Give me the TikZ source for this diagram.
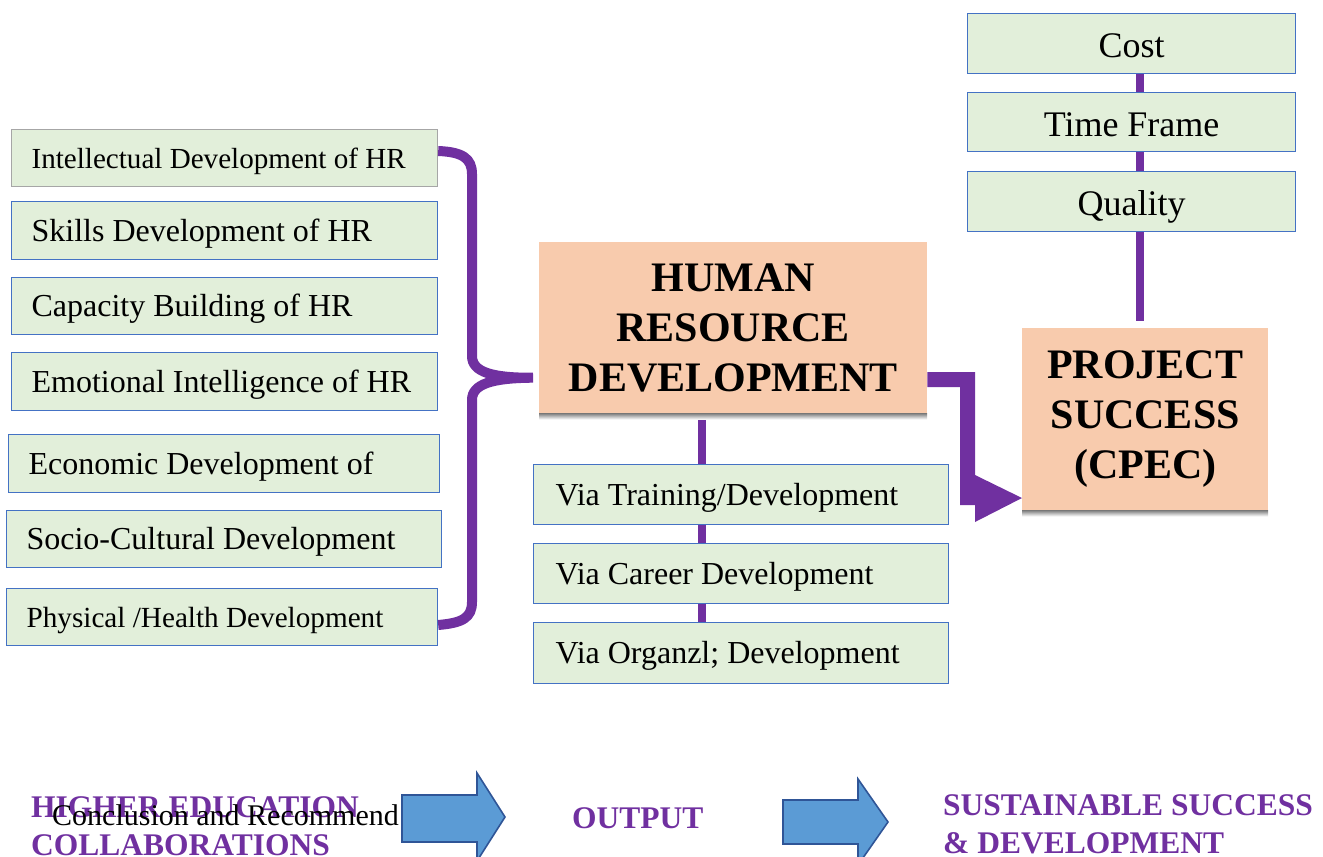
\documentclass[tikz,border=0pt]{standalone}
\usepackage{fontspec}
\setmainfont{Liberation Serif}
\usetikzlibrary{calc,backgrounds}

\definecolor{boxgreen}{HTML}{E2EFDA}
\definecolor{boxblue}{HTML}{4472C4}
\definecolor{boxgrey}{HTML}{A6A6A6}
\definecolor{peach}{HTML}{F8CBAD}
\definecolor{shade}{HTML}{A6A6A6}
\definecolor{hrpurple}{HTML}{7030A0}
\definecolor{arrowblue}{HTML}{5B9BD5}
\definecolor{arrowedge}{HTML}{2F5597}

\tikzset{
  factor/.style={draw=boxblue, fill=boxgreen, line width=1.2pt, anchor=north west,
    inner xsep=20pt, inner ysep=0pt, align=flush left,
    font=\fontsize{32}{38}\selectfont, text height=25pt, text depth=4pt},
  measure/.style={draw=boxblue, fill=boxgreen, line width=1.2pt, anchor=north west,
    inner sep=0pt, align=center,
    font=\fontsize{36}{42}\selectfont, text height=31pt, text depth=3pt},
  core/.style={fill=peach, anchor=north west, inner sep=0pt, align=center,
    font=\fontsize{42}{50}\selectfont\bfseries},
  link/.style={draw=hrpurple, line width=8pt},
  banner/.style={anchor=base west, inner sep=0pt, text=hrpurple, align=left,
    font=\fontsize{31.5}{38}\selectfont\bfseries},
  bigarrow/.style={fill=arrowblue, draw=arrowedge, line width=1.6pt, line join=miter},
}

\begin{document}
\begin{tikzpicture}[x=1pt, y=-1pt]
\useasboundingbox (0,0) rectangle (1323,857);

% ---- left column: dimensions of HR development
\node[factor, draw=boxgrey, text width=386pt, minimum height=57pt,
      font=\fontsize{29.1}{35}\selectfont] (f1) at (11,129) {Intellectual Development of HR};
\node[factor, text width=386pt, minimum height=58pt] (f2) at (11,201) {Skills Development of HR};
\node[factor, text width=386pt, minimum height=57pt] (f3) at (11,277) {Capacity Building of HR};
\node[factor, text width=386pt, minimum height=58pt] (f4) at (11,352) {Emotional Intelligence of HR};
\node[factor, text width=391pt, minimum height=58pt] (f5) at (8,434) {Economic Development of};
\node[factor, text width=395pt, minimum height=57pt] (f6) at (6,510) {Socio-Cultural Development};
\node[factor, text width=391pt, minimum height=57pt,
      font=\fontsize{29.2}{35}\selectfont] (f7) at (6,588) {Physical /Health Development};

% ---- central block
\node[core, minimum width=388pt, minimum height=171pt] (hrd) at (539,242)
  {HUMAN\\RESOURCE\\DEVELOPMENT};
\fill[shade] (hrd.south west) rectangle ++(388,6);

% ---- means of development
\node[factor, inner xsep=22pt, text width=371pt, minimum height=60pt] (v1) at (533,464) {Via Training/Development};
\node[factor, inner xsep=22pt, text width=371pt, minimum height=60pt] (v2) at (533,543) {Via Career Development};
\node[factor, inner xsep=22pt, text width=371pt, minimum height=61pt] (v3) at (533,622) {Via Organzl; Development};

% ---- success criteria
\node[measure, minimum width=328pt, minimum height=60pt] (cost) at (967,13) {Cost};
\node[measure, minimum width=328pt, minimum height=59pt] (time) at (967,92) {Time Frame};
\node[measure, minimum width=328pt, minimum height=60pt] (qual) at (967,171) {Quality};

% ---- outcome block
\node[core, minimum width=246pt, minimum height=182pt] (ps) at (1022,328)
  {PROJECT\\SUCCESS\\(CPEC)};
\fill[shade] (ps.south west) rectangle ++(246,6);

% ---- connectors behind the boxes
\coordinate (hx) at (702,0);
\coordinate (rx) at (1140,0);
\coordinate (qend) at (1140,321);
\begin{pgfonlayer}{background}
  \draw[link] (hrd.south -| hx) -- (v3.north -| hx);
  \draw[link] (cost.south -| rx) -- (qend);
\end{pgfonlayer}

% ---- curly brace gathering the seven dimensions
\draw[hrpurple, line width=10pt]
  ($(f1.north east)+(0,22)$) .. controls (462,152) and (472,158) .. (472,174)
  -- (472,356) .. controls (472,372) and (492,378) .. ($(hrd.west)+(-6,50)$)
  .. controls (492,378) and (472,384) .. (472,400)
  -- (472,602) .. controls (472,618) and (462,623) .. ($(f7.north east)+(0,37)$);

% ---- bent arrow from development to project success
\fill[hrpurple] (hrd.east |- 0,372) -- (975,372) -- (975,475) -- (ps.west |- 0,498)
  -- (975,522) -- (975,505) -- (960,505) -- (960,387) -- (hrd.east |- 0,387) -- cycle;

% ---- bottom line
\node[banner] (he) at (31,817) {HIGHER EDUCATION};
\node[banner] (co) at (31,855) {COLLABORATIONS};
\node[anchor=base west, inner sep=0pt, font=\fontsize{30}{36}\selectfont] (cr) at (52,825)
  {Conclusion and Recommend};
\draw[bigarrow] (402,795) -- (477,795) -- (477,773) -- (505,817) -- (477,861)
  -- (477,842) -- (402,842) -- cycle;
\node[banner] (out) at (572,828) {OUTPUT};
\draw[bigarrow] (783,800) -- (858,800) -- (858,779) -- (888,822) -- (858,865)
  -- (858,844) -- (783,844) -- cycle;
\node[banner] (ss) at (943,815) {SUSTAINABLE SUCCESS};
\node[banner] (sd) at (943,853) {\& DEVELOPMENT};
\end{tikzpicture}
\end{document}
